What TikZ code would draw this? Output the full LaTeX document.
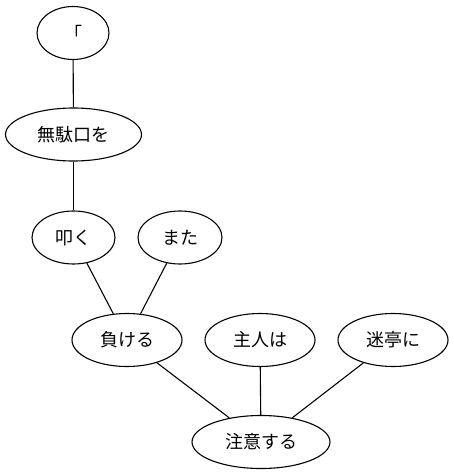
\documentclass[tikz,border=0pt]{standalone}
\usepackage{fontspec}
\setmainfont{Noto Sans CJK JP}
\usetikzlibrary{shapes.geometric}
\begin{document}
\begin{tikzpicture}[x=1pt,y=-1pt,
  word/.style={ellipse,draw,line width=1.1pt,inner sep=0pt,
    minimum height=53pt,font=\fontsize{18}{21}\selectfont},
  link/.style={line width=1.1pt}]
\useasboundingbox (0,0) rectangle (453,476);
\node[word,minimum width=72pt]  (q)  at (73,33)  {「};
\node[word,minimum width=136pt] (m)  at (73.5,134.5) {無駄口を};
\node[word,minimum width=83pt]  (t)  at (73.5,237.5) {叩く};
\node[word,minimum width=84pt]  (ma) at (180,237.5) {また};
\node[word,minimum width=110pt] (k)  at (127,340) {負ける};
\node[word,minimum width=110pt] (s)  at (260,340) {主人は};
\node[word,minimum width=110pt] (mt) at (393,340) {迷亭に};
\node[word,minimum width=138pt] (c)  at (261,442) {注意する};
\draw[link] (q) -- (m);
\draw[link] (m) -- (t);
\draw[link] (t) -- (k);
\draw[link] (ma) -- (k);
\draw[link] (k) -- (c);
\draw[link] (s) -- (c);
\draw[link] (mt) -- (c);
\end{tikzpicture}
\end{document}
